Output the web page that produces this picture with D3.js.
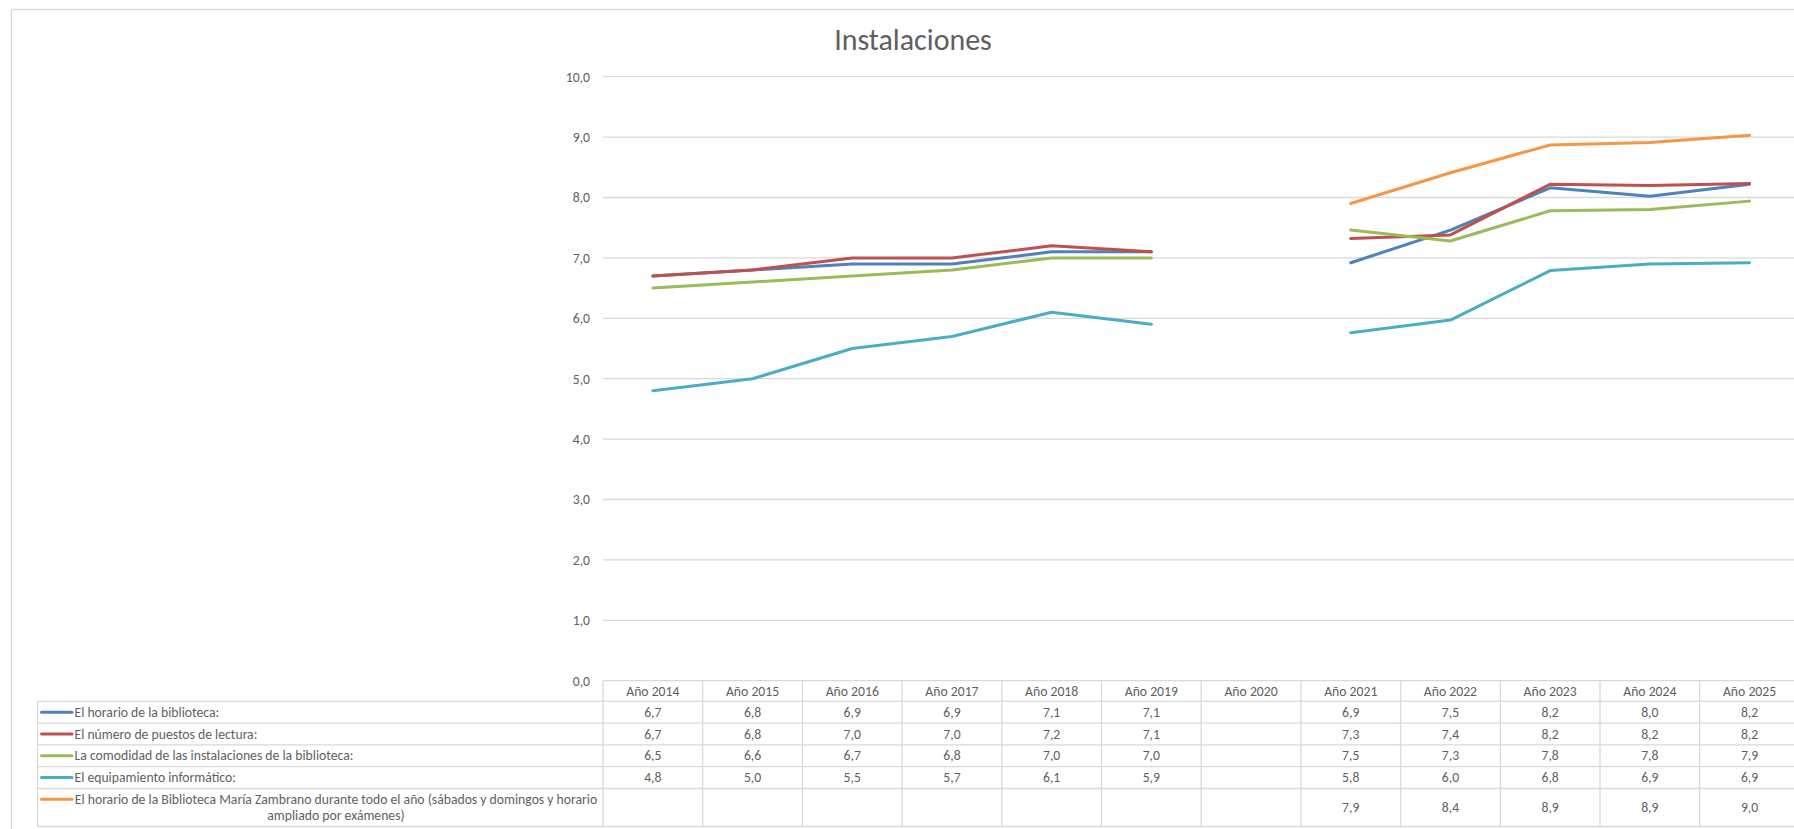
<!DOCTYPE html>
<html>
<head>
<meta charset="utf-8">
<script src="https://cdn.jsdelivr.net/npm/d3@7"></script>
<style>
  html, body { margin: 0; padding: 0; background: #fff; }
  svg { display: block; }
</style>
</head>
<body>
<svg id="chart" width="1794" height="829"></svg>
<script>
// ---------------- DATA ----------------
const years = ["Año 2014","Año 2015","Año 2016","Año 2017","Año 2018","Año 2019","Año 2020","Año 2021","Año 2022","Año 2023","Año 2024","Año 2025"];
const seriesNames = [
  "El horario de la biblioteca:",
  "El número de puestos de lectura:",
  "La comodidad de las instalaciones de la biblioteca:",
  "El equipamiento informático:",
  "El horario de la Biblioteca María Zambrano durante todo el año (sábados y domingos y horario ampliado por exámenes)"
];
const horario       = [6.7, 6.8, 6.9, 6.9, 7.1, 7.1, null, 6.92, 7.46, 8.16, 8.02, 8.22];
const puestos       = [6.7, 6.8, 7.0, 7.0, 7.2, 7.1, null, 7.32, 7.38, 8.22, 8.20, 8.23];
const comodidad     = [6.5, 6.6, 6.7, 6.8, 7.0, 7.0, null, 7.46, 7.28, 7.78, 7.80, 7.94];
const equipamiento  = [4.8, 5.0, 5.5, 5.7, 6.1, 5.9, null, 5.76, 5.97, 6.79, 6.90, 6.92];
const mariaZambrano = [null, null, null, null, null, null, null, 7.90, 8.41, 8.87, 8.91, 9.03];
const yTicks = [0, 1, 2, 3, 4, 5, 6, 7, 8, 9, 10];
const titleText = "Instalaciones";

const seriesValues = [horario, puestos, comodidad, equipamiento, mariaZambrano];
const colors = ["#4F81BD", "#C0504D", "#9BBB59", "#4BACC6", "#F79646"];

// ---------------- LAYOUT ----------------
const svg = d3.select("#chart");
const FONT = "Carlito, Calibri, Lato, 'Open Sans', sans-serif";
const textColor = "#5f5f5f";
const gridColor = "#D9D9D9";
const WEIGHT = 300;

const plotLeft = 603, colW = 99.7;
const plotTop = 76.7, plotBottom = 680.7;
const tableLeft = 37.5;

function fitSize(str, targetW) {
  const t = svg.append("text").attr("font-family", FONT).attr("font-weight", WEIGHT)
    .attr("font-size", 100).text(str);
  const w = t.node().getComputedTextLength();
  t.remove();
  return 100 * targetW / w;
}
const tableFont = fitSize("El horario de la biblioteca:", 144.7);
const titleFont = fitSize(titleText, 157.7);

const x = d3.scaleBand().domain(years).range([plotLeft, plotLeft + colW * years.length]);
const y = d3.scaleLinear().domain([0, 10]).range([plotBottom, plotTop]);
const fmt = v => d3.format(".1f")(v).replace(".", ",");

function styleText(sel, size) {
  return sel.attr("font-family", FONT).attr("font-weight", WEIGHT)
    .attr("font-size", size).attr("fill", textColor);
}

// outer chart border
svg.append("rect")
  .attr("x", 11.5).attr("y", 9.5).attr("width", 2000).attr("height", 1000)
  .attr("fill", "none").attr("stroke", gridColor).attr("stroke-width", 1.3);

// title
styleText(svg.append("text")
  .attr("x", 913).attr("y", 50)
  .attr("text-anchor", "middle"), titleFont)
  .text(titleText);

// gridlines
svg.append("g")
  .selectAll("line")
  .data(yTicks.filter(d => d > 0))
  .join("line")
  .attr("x1", plotLeft).attr("x2", 1900)
  .attr("y1", d => y(d)).attr("y2", d => y(d))
  .attr("stroke", gridColor).attr("stroke-width", 1.3);

// y axis labels
const yAxis = d3.axisLeft(y).tickValues(yTicks).tickSize(0).tickPadding(13).tickFormat(fmt);
const gy = svg.append("g").attr("transform", `translate(${plotLeft},0)`).call(yAxis);
gy.select(".domain").remove();
styleText(gy.selectAll("text"), tableFont);

// lines
const line = d3.line()
  .defined(d => d != null)
  .x((d, i) => x(years[i]) + x.bandwidth() / 2)
  .y(d => y(d));

svg.append("g")
  .selectAll("path")
  .data(seriesValues)
  .join("path")
  .attr("d", d => line(d))
  .attr("fill", "none")
  .attr("stroke", (d, i) => colors[i])
  .attr("stroke-width", 3)
  .attr("stroke-linecap", "round")
  .attr("stroke-linejoin", "round");

// ---------------- DATA TABLE ----------------
const headerH = 20.6;
const rowHeights = [21.8, 21.8, 21.8, 21.8, 38];
const rowTops = [];
let acc = plotBottom + headerH;
rowHeights.forEach(h => { rowTops.push(acc); acc += h; });
const tableBottom = acc;
const tableRight = plotLeft + colW * years.length;

const tg = svg.append("g");
tg.append("line").attr("x1", plotLeft).attr("x2", tableRight)
  .attr("y1", plotBottom).attr("y2", plotBottom)
  .attr("stroke", gridColor).attr("stroke-width", 1.3);
[...rowTops, tableBottom].forEach(yy => {
  tg.append("line").attr("x1", tableLeft).attr("x2", tableRight)
    .attr("y1", yy).attr("y2", yy)
    .attr("stroke", gridColor).attr("stroke-width", 1.3);
});
tg.append("line").attr("x1", tableLeft).attr("x2", tableLeft)
  .attr("y1", rowTops[0]).attr("y2", tableBottom)
  .attr("stroke", gridColor).attr("stroke-width", 1.3);
d3.range(years.length + 1).forEach(i => {
  const xx = plotLeft + colW * i;
  tg.append("line").attr("x1", xx).attr("x2", xx)
    .attr("y1", plotBottom).attr("y2", tableBottom)
    .attr("stroke", gridColor).attr("stroke-width", 1.3);
});

// header labels
styleText(tg.selectAll("text.hdr")
  .data(years)
  .join("text")
  .attr("class", "hdr")
  .attr("x", d => x(d) + x.bandwidth() / 2)
  .attr("y", plotBottom + headerH / 2 + tableFont * 0.33)
  .attr("text-anchor", "middle"), tableFont)
  .text(d => d);

// values
seriesValues.forEach((vals, si) => {
  const cy = rowTops[si] + rowHeights[si] / 2;
  styleText(tg.append("g").selectAll("text")
    .data(vals)
    .join("text")
    .attr("x", (d, i) => x(years[i]) + x.bandwidth() / 2)
    .attr("y", cy + tableFont * 0.33)
    .attr("text-anchor", "middle"), tableFont)
    .text(d => d == null ? "" : fmt(d));
});

// legend keys + labels
seriesNames.forEach((name, si) => {
  const top = rowTops[si];
  const h = rowHeights[si];
  if (si < 4) {
    const cy = top + h / 2;
    tg.append("line").attr("x1", 41.5).attr("x2", 72).attr("y1", cy).attr("y2", cy)
      .attr("stroke", colors[si]).attr("stroke-width", 3).attr("stroke-linecap", "round");
    styleText(tg.append("text").attr("x", 74.5).attr("y", cy + tableFont * 0.33), tableFont)
      .text(name);
  } else {
    const l1 = "El horario de la Biblioteca María Zambrano durante todo el año (sábados y domingos y horario";
    const l2 = "ampliado por exámenes)";
    const cy1 = top + 10.8, cy2 = top + 26.8;
    tg.append("line").attr("x1", 41.5).attr("x2", 72).attr("y1", cy1).attr("y2", cy1)
      .attr("stroke", colors[si]).attr("stroke-width", 3).attr("stroke-linecap", "round");
    const cx = 336;
    styleText(tg.append("text").attr("x", cx).attr("y", cy1 + tableFont * 0.33)
      .attr("text-anchor", "middle"), tableFont).text(l1);
    styleText(tg.append("text").attr("x", cx).attr("y", cy2 + tableFont * 0.33)
      .attr("text-anchor", "middle"), tableFont).text(l2);
  }
});
</script>
</body>
</html>
